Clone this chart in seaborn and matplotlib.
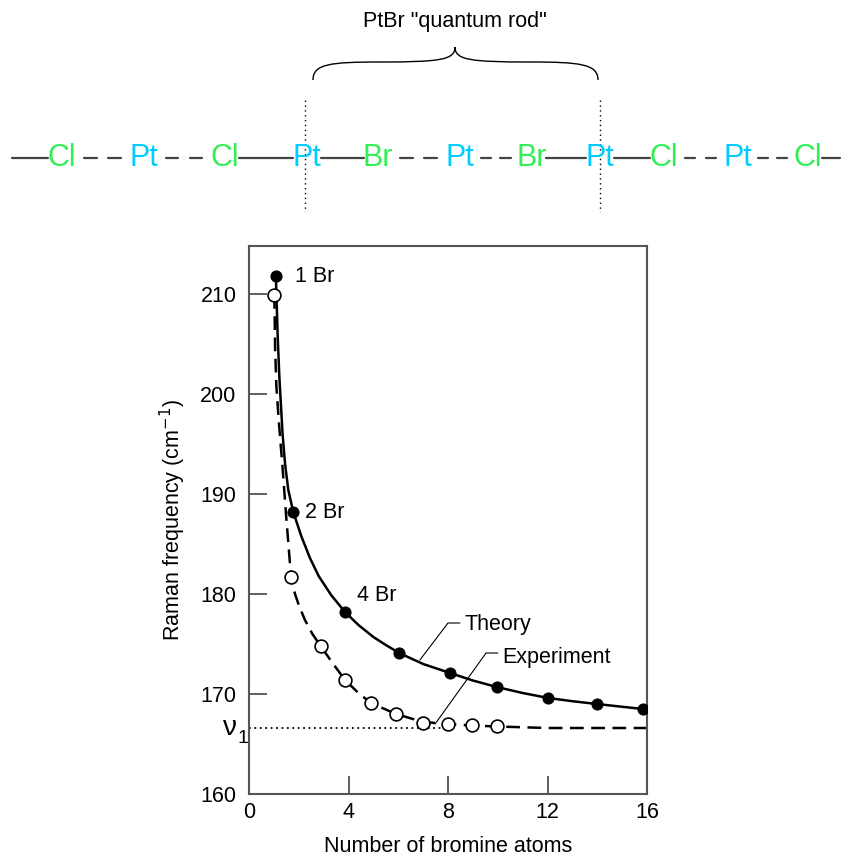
import numpy as np
import pandas as pd
import seaborn as sns
import matplotlib.pyplot as plt
from matplotlib.path import Path
from matplotlib.patches import PathPatch

# measured points
theory_x = [1.08, 1.78, 3.86, 6.04, 8.08, 9.96, 12.03, 13.98, 15.83]
theory_y = [211.8, 188.2, 178.2, 174.1, 172.1, 170.7, 169.6, 169.0, 168.5]
expt_x = [1.02, 1.69, 2.88, 3.86, 4.9, 5.91, 7.0, 8.0, 8.95, 9.98]
expt_y = [209.9, 181.7, 174.8, 171.4, 169.1, 168.0, 167.1, 167.0, 166.9, 166.8]

# curves
theory_curve_x = [1.08, 1.15, 1.22, 1.35, 1.45, 1.58, 1.78, 2.1, 2.45, 2.8, 3.3, 3.86, 4.4, 5.0,
                  5.5, 6.04, 7.0, 8.08, 9.0, 9.96, 11.0, 12.03, 13.0, 13.98, 15.83]
theory_curve_y = [211.8, 206.0, 201.7, 196.0, 193.0, 190.4, 188.2, 185.8, 183.6, 181.8, 179.9, 178.2,
                  176.9, 175.7, 174.9, 174.1, 173.0, 172.1, 171.35, 170.7, 170.1, 169.6, 169.28,
                  169.0, 168.5]
expt_curve_x = [1.02, 1.05, 1.1, 1.2, 1.35, 1.5, 1.69, 1.85, 2.0, 2.25, 2.55, 2.88, 3.3, 3.86,
                4.4, 4.9, 5.91, 7.0, 8.0, 8.95, 9.98, 12.0, 16.0]
expt_curve_y = [209.9, 204.5, 200.8, 197.2, 192.6, 187.6, 181.7, 180.0, 178.9, 177.4, 176.0,
                174.8, 173.3, 171.4, 170.1, 169.1, 168.0, 167.2, 167.0, 166.85, 166.75, 166.6, 166.6]
nu1 = 166.6

point_labels = ["1 Br", "2 Br", "4 Br"]
point_label_xy = [(1.85, 211.8), (2.25, 188.2), (4.34, 179.9)]

# chain diagram
atoms = ["Cl", "Pt", "Cl", "Pt", "Br", "Pt", "Br", "Pt", "Cl", "Pt", "Cl"]
atom_px = [62, 144, 225, 307, 378, 460, 532, 600, 664, 738, 808]
bonds = ["solid", "dashed", "dashed", "solid", "solid", "dashed", "dashed",
         "solid", "solid", "dashed", "dashed", "solid"]
atom_colors = {"Cl": "#33ee55", "Br": "#33ee55", "Pt": "#00ccff"}

sns.set_theme(style="ticks")
plt.rcParams["font.family"] = ["Liberation Sans", "DejaVu Sans"]
plt.rcParams["text.color"] = "black"
plt.rcParams["axes.labelcolor"] = "black"
plt.rcParams["xtick.labelcolor"] = "black"
plt.rcParams["ytick.labelcolor"] = "black"

FS = 15.5

fig = plt.figure(figsize=(8.47, 8.57), dpi=100)

# ---- top diagram (pixel coords)
top = fig.add_axes([0, 1 - 230 / 857, 1, 230 / 857])
top.set_xlim(0, 847)
top.set_ylim(230, 0)
top.axis("off")
chain_y = 158
hw = 14
for x, a in zip(atom_px, atoms):
    top.text(x, chain_y, a, color=atom_colors[a], fontsize=22, ha="center", va="center")
ends = [12] + atom_px + [840]
for i, style in enumerate(bonds):
    x0 = ends[i] + (hw if i > 0 else 0)
    x1 = ends[i + 1] - (hw if i < len(bonds) - 1 else 0)
    if style == "solid":
        top.plot([x0, x1], [chain_y, chain_y], color="#444444", lw=1.6)
    else:
        L = x1 - x0
        for a, b in [(0.15, 0.38), (0.6, 0.83)]:
            top.plot([x0 + a * L, x0 + b * L], [chain_y, chain_y], color="#444444", lw=1.6)
for vx in [305, 600]:
    top.plot([vx, vx], [100, 212], color="black", lw=1, ls=(0, (1, 2.5)))
# brace
verts = [(313, 80), (313, 64), (330, 62), (380, 62), (440, 62), (455, 60), (455, 47),
         (455, 60), (470, 62), (530, 62), (580, 62), (598, 64), (598, 80)]
codes = [Path.MOVETO] + [Path.CURVE4] * 12
top.add_patch(PathPatch(Path(verts, codes), fill=False, lw=1, color="black"))
top.text(455, 22, 'PtBr "quantum rod"', fontsize=FS, ha="center", va="center")

# ---- main plot
ax = fig.add_axes([249 / 847, 63 / 857, 398 / 847, 548 / 857])
df_tc = pd.DataFrame({"x": theory_curve_x, "y": theory_curve_y})
df_ec = pd.DataFrame({"x": expt_curve_x, "y": expt_curve_y})
ax.plot([0, 8], [nu1, nu1], color="black", lw=1.3, ls=(0, (1, 2)), zorder=1)
sns.lineplot(data=df_ec, x="x", y="y", ax=ax, color="black", lw=1.8, sort=False, zorder=2)
ax.lines[-1].set_dashes((5.5, 3))
sns.lineplot(data=df_tc, x="x", y="y", ax=ax, color="black", lw=1.8, sort=False, zorder=2)
sns.scatterplot(x=expt_x, y=expt_y, ax=ax, s=85, color="white", edgecolor="black",
                linewidth=1.2, zorder=4)
sns.scatterplot(x=theory_x, y=theory_y, ax=ax, s=65, color="black", edgecolor="black",
                zorder=5)

for lab, (lx, ly) in zip(point_labels, point_label_xy):
    ax.text(lx, ly, lab, fontsize=FS, va="center", ha="left")

ax.plot([6.87, 8.0, 8.48], [173.4, 177.1, 177.1], color="black", lw=0.8)
ax.text(8.68, 177.0, "Theory", fontsize=FS, va="center")
ax.plot([7.48, 9.53, 10.0], [167.0, 174.1, 174.1], color="black", lw=0.8)
ax.text(10.2, 173.7, "Experiment", fontsize=FS, va="center")

ax.text(-0.5, 165.9, "ν", fontsize=20, ha="right", va="baseline")
ax.text(-0.46, 165.1, "1", fontsize=14, ha="left", va="baseline")

ax.set_xlim(0, 16)
ax.set_ylim(160, 214.8)
ax.set_xticks([0, 4, 8, 12, 16])
ax.set_yticks([160, 170, 180, 190, 200, 210])
ax.tick_params(direction="in", length=13, width=1.2, labelsize=FS, color="#444444")
ax.tick_params(axis="y", pad=9)
ax.tick_params(axis="x", pad=6)
for sp in ax.spines.values():
    sp.set_color("#555555")
    sp.set_linewidth(1.5)
ax.set_xlabel("Number of bromine atoms", fontsize=FS, labelpad=9)
ax.set_ylabel("Raman frequency (cm$^{-1}$)", fontsize=FS, labelpad=9)

fig.savefig("out.png", dpi=100)
